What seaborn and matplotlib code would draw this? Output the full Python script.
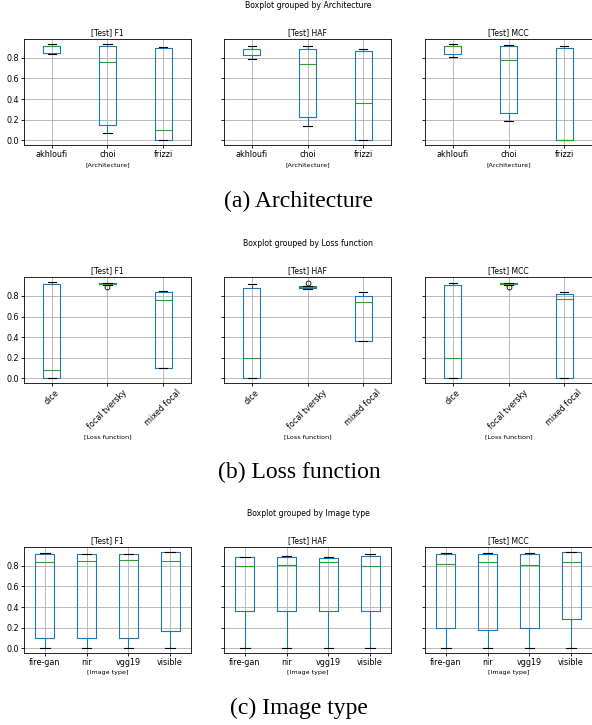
import numpy as np
import pandas as pd
import matplotlib
matplotlib.use("Agg")
import matplotlib.pyplot as plt
import seaborn as sns

# box summaries: [low whisker, q1, median, q3, high whisker]
# (longer lists where an outlier is drawn)
metrics = ["[Test] F1", "[Test] HAF", "[Test] MCC"]

arch_groups = ["akhloufi", "choi", "frizzi"]
arch_f1 = [[0.84, 0.846, 0.915, 0.918, 0.937],
           [0.068, 0.146, 0.761, 0.914, 0.933],
           [0.0, 0.0, 0.098, 0.894, 0.907]]
arch_haf = [[0.793, 0.829, 0.887, 0.888, 0.911],
            [0.137, 0.224, 0.738, 0.885, 0.911],
            [0.0, 0.0, 0.361, 0.868, 0.885]]
arch_mcc = [[0.81, 0.836, 0.913, 0.914, 0.933],
            [0.182, 0.263, 0.777, 0.911, 0.93],
            [0.0, 0.0, 0.005, 0.894, 0.911]]

loss_groups = ["dice", "focal tversky", "mixed focal"]
loss_f1 = [[0.0, 0.0, 0.082, 0.915, 0.938],
           [0.89, 0.905, 0.915, 0.917, 0.92, 0.922, 0.925, 0.928, 0.93],
           [0.098, 0.098, 0.764, 0.843, 0.849]]
loss_haf = [[0.0, 0.0, 0.2, 0.879, 0.918],
            [0.869, 0.875, 0.882, 0.885, 0.889, 0.892, 0.895, 0.9, 0.931],
            [0.364, 0.364, 0.741, 0.8, 0.839]]
loss_mcc = [[0.0, 0.0, 0.2, 0.908, 0.928],
            [0.89, 0.905, 0.912, 0.915, 0.918, 0.92, 0.922, 0.925, 0.928],
            [0.0, 0.003, 0.77, 0.823, 0.839]]

img_groups = ["fire-gan", "nir", "vgg19", "visible"]
img_f1 = [[0.0, 0.098, 0.839, 0.911, 0.927],
          [0.0, 0.098, 0.849, 0.918, 0.919],
          [0.0, 0.098, 0.856, 0.915, 0.918],
          [0.0, 0.163, 0.849, 0.934, 0.937]]
img_haf = [[0.0, 0.362, 0.797, 0.885, 0.891],
           [0.0, 0.362, 0.81, 0.888, 0.895],
           [0.0, 0.362, 0.839, 0.878, 0.885],
           [0.0, 0.362, 0.8, 0.898, 0.914]]
img_mcc = [[0.0, 0.196, 0.82, 0.918, 0.921],
           [0.0, 0.18, 0.836, 0.918, 0.921],
           [0.0, 0.199, 0.81, 0.914, 0.921],
           [0.0, 0.284, 0.836, 0.931, 0.937]]

W, H = 592, 725
fig = plt.figure(figsize=(W / 100, H / 100), dpi=100)


def rect(left, top, w=167, h=106):
    return [left / W, 1 - (top + h) / H, w / W, h / H]


def draw_row(top, groups, series, xlabel, width, rot):
    first = None
    for i, (left, metric, vals) in enumerate(zip([24, 224, 425], metrics, series)):
        ax = fig.add_axes(rect(left, top), sharey=first)
        if first is None:
            first = ax
        df = pd.DataFrame({"group": [g for g, v in zip(groups, vals) for _ in v],
                           "value": [x for v in vals for x in v]})
        sns.boxplot(data=df, x="group", y="value", order=groups, ax=ax,
                    width=width, fill=False, color="C0", linewidth=0.8,
                    medianprops=dict(color="C2", linewidth=0.8),
                    capprops=dict(color="k", linewidth=0.8),
                    whiskerprops=dict(color="C0", linewidth=0.8),
                    flierprops=dict(marker="o", markerfacecolor="none",
                                    markeredgecolor="k", markersize=3.5,
                                    markeredgewidth=0.6))
        ax.grid(True, color="#b0b0b0", linewidth=0.6)
        ax.set_title(metric, fontsize=5.5, pad=2.5)
        ax.set_ylabel("")
        ax.set_xlabel(xlabel, fontsize=4.6, labelpad=2)
        ax.tick_params(length=2.2, width=0.6, pad=1.5, labelsize=5.8)
        if rot:
            plt.setp(ax.get_xticklabels(), rotation=rot, ha="center")
        if i > 0:
            ax.tick_params(labelleft=False)
        for s in ax.spines.values():
            s.set_linewidth(0.6)
    return first


draw_row(39, arch_groups, [arch_f1, arch_haf, arch_mcc], "[Architecture]", 0.3, 0)
draw_row(277, loss_groups, [loss_f1, loss_haf, loss_mcc], "[Loss function]", 0.3, 45)
draw_row(547, img_groups, [img_f1, img_haf, img_mcc], "[Image type]", 0.45, 0)

sup = [(5.5, "Boxplot grouped by Architecture"),
       (243, "Boxplot grouped by Loss function"),
       (513, "Boxplot grouped by Image type")]
for y, t in sup:
    fig.text(308 / W, 1 - y / H, t, ha="center", va="center", fontsize=5.6)

caps = [(201, "(a) Architecture"), (472, "(b) Loss function"), (708, "(c) Image type")]
for y, t in caps:
    fig.text(299 / W, 1 - y / H, t, ha="center", va="center", fontsize=17,
             family="Liberation Serif")

fig.savefig("out.png", dpi=100)
